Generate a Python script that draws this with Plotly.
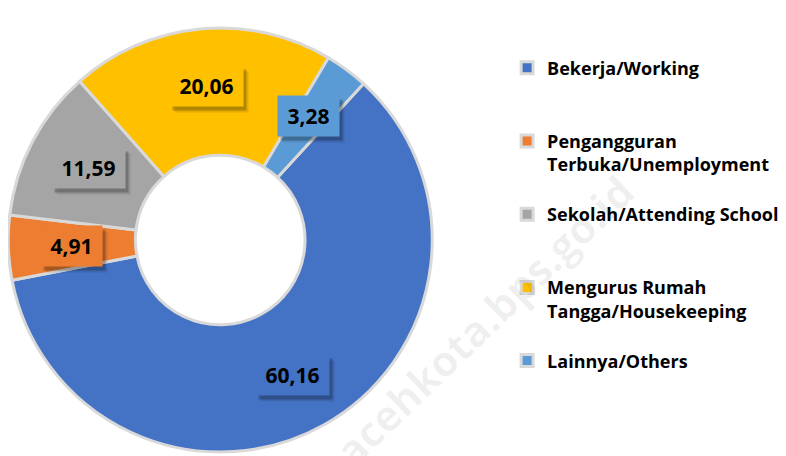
import math
import plotly.graph_objects as go

labels = ["Bekerja/Working", "Pengangguran Terbuka/Unemployment", "Sekolah/Attending School",
          "Mengurus Rumah Tangga/Housekeeping", "Lainnya/Others"]
legend_names = ["Bekerja/Working<br> <br> ",
                "Pengangguran<br>Terbuka/Unemployment<br> ",
                "Sekolah/Attending School<br> <br> ",
                "Mengurus Rumah<br>Tangga/Housekeeping<br> ",
                "Lainnya/Others"]
values = [60.16, 4.91, 11.59, 20.06, 3.28]
colors = ["#4472C4", "#ED7D31", "#A5A5A5", "#FFC000", "#5B9BD5"]

FONT = "Open Sans"
W, H = 786, 456
M_L, M_R, M_T, M_B = 0, 0, 20, 12
DOM_X = [0, 0.54]
DOM_Y = [0, 1]
HOLE = 0.4
ROTATION = 42.5
LBL_SIZE = 21

fig = go.Figure()
fig.add_trace(go.Pie(
    labels=legend_names,
    values=values,
    hole=HOLE,
    sort=False,
    direction="clockwise",
    rotation=ROTATION,
    marker=dict(colors=colors, line=dict(color="#D9D9D9", width=3)),
    textinfo="none",
    domain=dict(x=DOM_X, y=DOM_Y),
    hoverinfo="label+value",
))

# data labels (Excel-style boxes) placed at the middle of each ring segment
plot_w = W - M_L - M_R
plot_h = H - M_T - M_B
dom_w = (DOM_X[1] - DOM_X[0]) * plot_w
dom_h = (DOM_Y[1] - DOM_Y[0]) * plot_h
radius = min(dom_w, dom_h) / 2
cx_paper = (DOM_X[0] + DOM_X[1]) / 2
cy_paper = (DOM_Y[0] + DOM_Y[1]) / 2
r_lab = radius * (1 + HOLE) / 2
total = sum(values)
cum = 0.0
for v, c in zip(values, colors):
    theta = math.radians(ROTATION + 360 * (cum + v / 2) / total)
    cum += v
    xp = cx_paper + r_lab * math.sin(theta) / plot_w
    yp = cy_paper + r_lab * 1.04 * math.cos(theta) / plot_h
    txt = f"{v:.2f}".replace(".", ",")
    bw = sum(0.3 if ch == "," else 0.58 for ch in txt) * LBL_SIZE + 6
    bh = LBL_SIZE * 1.35
    for dx, dy, a in [(5, -6, 0.10), (3, -4, 0.22)]:
        fig.add_annotation(
            text=" ", x=xp, y=yp, xref="paper", yref="paper", showarrow=False,
            xanchor="center", yanchor="middle", width=bw, height=bh,
            xshift=dx, yshift=dy, bgcolor=f"rgba(0,0,0,{a})", borderpad=6,
            font=dict(family=FONT, size=LBL_SIZE, color="rgba(0,0,0,0)"),
        )
    fig.add_annotation(
        text=txt, x=xp, y=yp, xref="paper", yref="paper", showarrow=False,
        xanchor="center", yanchor="middle", width=bw, height=bh,
        bgcolor=c, borderpad=6,
        font=dict(family=FONT, size=LBL_SIZE, color="#000000", weight="bold"),
    )

fig.add_annotation(
    text="acehkota.bps.go.id", x=0.605, y=0.31, xref="paper", yref="paper",
    showarrow=False, textangle=-44, xanchor="center", yanchor="middle",
    font=dict(family=FONT, size=42, color="rgba(0,0,0,0.06)", weight="bold"),
)

fig.update_layout(
    width=W, height=H,
    margin=dict(l=M_L, r=M_R, t=M_T, b=M_B),
    paper_bgcolor="white", plot_bgcolor="white",
    showlegend=True,
    legend=dict(
        x=0.635, xanchor="left", y=0.949, yanchor="top",
        valign="top",
        font=dict(family=FONT, size=18, color="#000000", weight="bold"),
        bgcolor="rgba(0,0,0,0)",
    ),
)

fig.write_html("out.html")
